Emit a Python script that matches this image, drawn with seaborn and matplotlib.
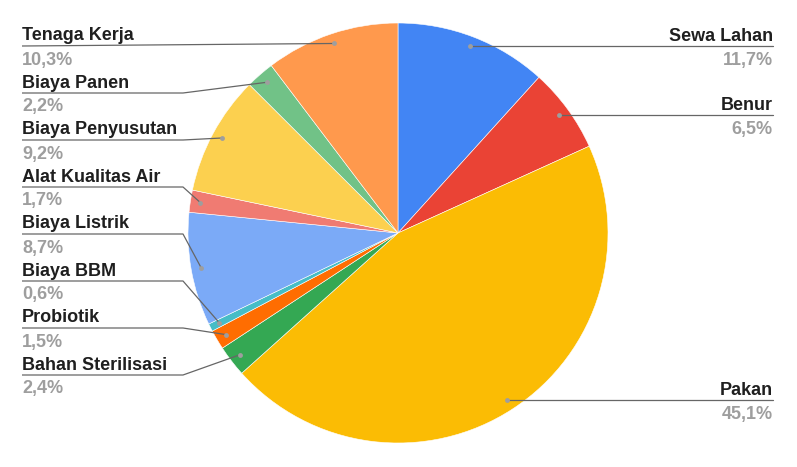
import numpy as np
import matplotlib
matplotlib.use("Agg")
import matplotlib.pyplot as plt
import seaborn as sns

labels = ["Sewa Lahan", "Benur", "Pakan", "Bahan Sterilisasi", "Probiotik",
          "Biaya BBM", "Biaya Listrik", "Alat Kualitas Air", "Biaya Penyusutan",
          "Biaya Panen", "Tenaga Kerja"]
values = [11.7, 6.5, 45.1, 2.4, 1.5, 0.6, 8.7, 1.7, 9.2, 2.2, 10.3]
colors = ["#4285F4", "#EA4335", "#FBBC04", "#34A853", "#FF6D01", "#46BDC6",
          "#7BAAF7", "#F07B72", "#FCD04F", "#71C287", "#FF994D"]

sns.set_theme(style="white")
plt.rcParams['font.family'] = ['Liberation Sans', 'DejaVu Sans']

W, H = 797, 467
fig = plt.figure(figsize=(W / 100, H / 100), dpi=100)
ax = fig.add_axes([0, 0, 1, 1])

cx, cy, R = 398, 233, 210
# y axis is inverted below, so counterclock=True with startangle -90 runs clockwise from the top
wedges, _ = ax.pie(values, colors=sns.color_palette(colors), startangle=-90,
                   counterclock=True, center=(cx, cy), radius=R, frame=True,
                   wedgeprops=dict(edgecolor="white", linewidth=0.4))
ax.set_xlim(0, W)
ax.set_ylim(H, 0)
ax.set_aspect("equal")
ax.axis("off")

total = sum(values)
cum = np.cumsum([0] + values[:-1])
mids = (cum + np.array(values) / 2) / total * 2 * np.pi
dot_r = R * 0.952
dots_x = cx + dot_r * np.sin(mids)
dots_y = cy - dot_r * np.cos(mids)

left_x, right_x, knee_x = 22, 773, 183
left_slots = {"Tenaga Kerja": 46, "Biaya Panen": 93, "Biaya Penyusutan": 140,
              "Alat Kualitas Air": 187, "Biaya Listrik": 234, "Biaya BBM": 281,
              "Probiotik": 328, "Bahan Sterilisasi": 375}

line_c = "#666666"
for i, name in enumerate(labels):
    pct = f"{values[i]:.1f}".replace(".", ",") + "%"
    dx, dy = dots_x[i], dots_y[i]
    if name in left_slots:
        ly = left_slots[name]
        if name == "Tenaga Kerja":
            xs, ys = [left_x, dx], [ly, dy]
        else:
            xs, ys = [left_x, knee_x, dx], [ly, ly, dy]
        ax.plot(xs, ys, color=line_c, lw=0.9, solid_capstyle="butt")
        tx, ha = left_x, "left"
    else:
        ly = dy
        ax.plot([right_x, dx], [ly, ly], color=line_c, lw=0.9)
        tx, ha = right_x, "right"
    ax.plot(dx, dy, "o", ms=3.5, color="#9E9E9E", mec="none")
    ax.text(tx, ly - 5.5, name, ha=ha, va="baseline", fontsize=13,
            fontweight="bold", color="#1F1F1F")
    ax.text(tx, ly + 18.5, pct, ha=ha, va="baseline", fontsize=13,
            fontweight="bold", color="#9E9E9E")

fig.savefig("out.png", dpi=100)
